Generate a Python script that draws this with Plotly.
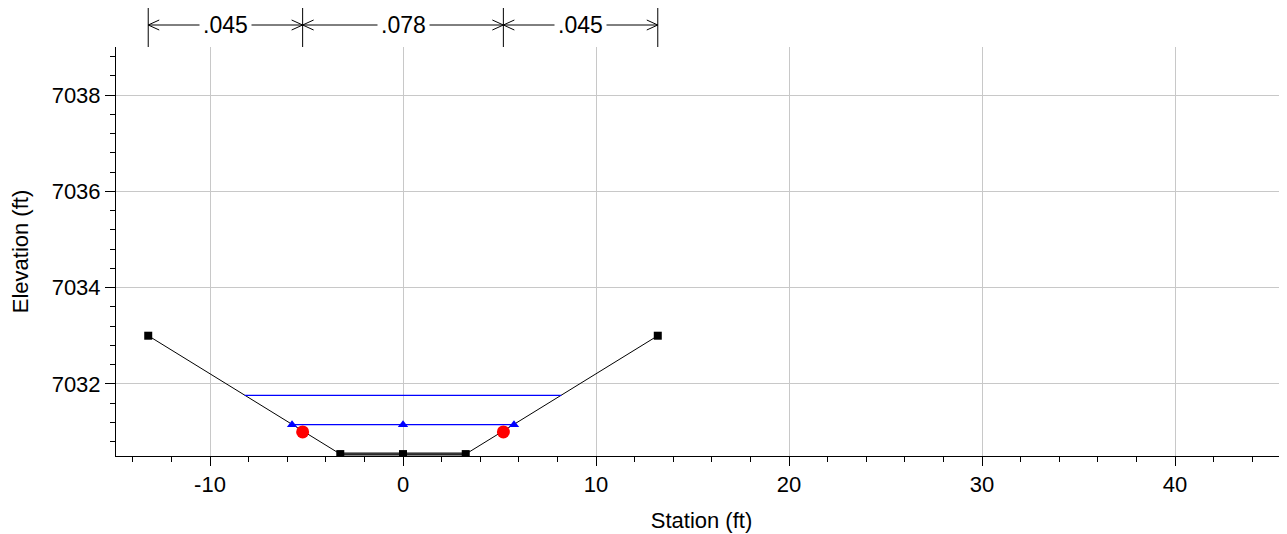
import plotly.graph_objects as go

# ---- data ----
station = [-13.2, -3.25, 0.0, 3.25, 13.2]
elevation = [7033.0, 7030.54, 7030.54, 7030.54, 7033.0]
bed_station = [-3.25, 0.0, 3.25]
bed_elevation = [7030.54, 7030.54, 7030.54]
bank_station = [-5.2, 5.2]
bank_elevation = [7031.0, 7031.0]
ws_upper_station = [-8.2, 8.2]
ws_upper_elev = [7031.76, 7031.76]
ws_lower_station = [-5.75, 0.0, 5.75]
ws_lower_elev = [7031.15, 7031.15, 7031.15]
n_values = [".045", ".078", ".045"]
n_breaks = [-13.2, -5.2, 5.2, 13.2]
x_tickvals = [-10, 0, 10, 20, 30, 40]
x_ticktext = ["-10", "0", "10", "20", "30", "40"]
y_tickvals = [7032, 7034, 7036, 7038]
y_ticktext = ["7032", "7034", "7036", "7038"]

FONT = "Liberation Sans, Arial, sans-serif"
FS = 22

fig = go.Figure()

# channel bed (thick gray)
fig.add_trace(go.Scatter(x=bed_station, y=bed_elevation, mode="lines",
                         line=dict(color="#606060", width=3.5), hoverinfo="skip"))
# ground line with points
fig.add_trace(go.Scatter(x=station, y=elevation, mode="lines+markers",
                         line=dict(color="black", width=1),
                         marker=dict(symbol="square", size=8, color="black")))
# water surfaces
fig.add_trace(go.Scatter(x=ws_upper_station, y=ws_upper_elev, mode="lines",
                         line=dict(color="#0000ff", width=1.3)))
fig.add_trace(go.Scatter(x=ws_lower_station, y=ws_lower_elev, mode="lines+markers",
                         line=dict(color="#0000ff", width=1.3),
                         marker=dict(symbol="triangle-up", size=9, color="#0000ff")))
# bank stations
fig.add_trace(go.Scatter(x=bank_station, y=bank_elevation, mode="markers",
                         marker=dict(symbol="circle", size=13, color="#ff0000")))

# Manning's n annotations above the plot
plot_h = 409.0
y_arrow = 1 + 22 / plot_h
y_top = 1 + 43 / plot_h
dx = 11 / 19.3
dy = 5 / plot_h
shapes = []
for b in n_breaks:
    shapes.append(dict(type="line", xref="x", yref="paper", x0=b, x1=b, y0=1.0, y1=y_top,
                       line=dict(color="black", width=1)))
annotations = []
for i, n in enumerate(n_values):
    b0, b1 = n_breaks[i], n_breaks[i + 1]
    shapes.append(dict(type="line", xref="x", yref="paper", x0=b0, x1=b1, y0=y_arrow, y1=y_arrow,
                       line=dict(color="black", width=1)))
    shapes.append(dict(type="path", xref="x", yref="paper",
                       path=f"M {b0+dx} {y_arrow+dy} L {b0} {y_arrow} L {b0+dx} {y_arrow-dy}",
                       line=dict(color="black", width=1)))
    shapes.append(dict(type="path", xref="x", yref="paper",
                       path=f"M {b1-dx} {y_arrow+dy} L {b1} {y_arrow} L {b1-dx} {y_arrow-dy}",
                       line=dict(color="black", width=1)))
    annotations.append(dict(x=(b0 + b1) / 2, y=y_arrow, xref="x", yref="paper", text=n,
                            showarrow=False, bgcolor="white", borderpad=3,
                            font=dict(family=FONT, size=23, color="black"),
                            xanchor="center", yanchor="middle"))

# the page body has an 8px margin, so the figure is sized/offset to compensate
fig.update_layout(
    width=1279, height=526,
    margin=dict(l=108, r=0, t=39, b=78),
    paper_bgcolor="white", plot_bgcolor="white",
    showlegend=False,
    font=dict(family=FONT, size=FS, color="black"),
    shapes=shapes, annotations=annotations,
)
fig.update_xaxes(
    range=[-14.87, 45.8], tickmode="array", tickvals=x_tickvals, ticktext=x_ticktext,
    showgrid=True, gridcolor="#c8c8c8", gridwidth=1, zeroline=False,
    showline=True, linecolor="black", linewidth=1,
    ticks="outside", ticklen=9, tickcolor="black",
    minor=dict(tickmode="linear", tick0=0, dtick=2, ticks="outside", ticklen=5,
               tickcolor="black", showgrid=False),
    title=dict(text="Station (ft)", font=dict(size=FS), standoff=16),
    tickfont=dict(size=FS),
)
fig.update_yaxes(
    range=[7030.5, 7039.0], tickmode="array", tickvals=y_tickvals, ticktext=y_ticktext,
    showgrid=True, gridcolor="#c8c8c8", gridwidth=1, zeroline=False,
    showline=True, linecolor="black", linewidth=1,
    ticks="outside", ticklen=10, tickcolor="black",
    minor=dict(tickmode="linear", tick0=7030, dtick=0.4, ticks="outside", ticklen=5,
               tickcolor="black", showgrid=False),
    title=dict(text="Elevation (ft)", font=dict(size=FS), standoff=22),
    tickfont=dict(size=FS),
)

fig.write_html("out.html")
